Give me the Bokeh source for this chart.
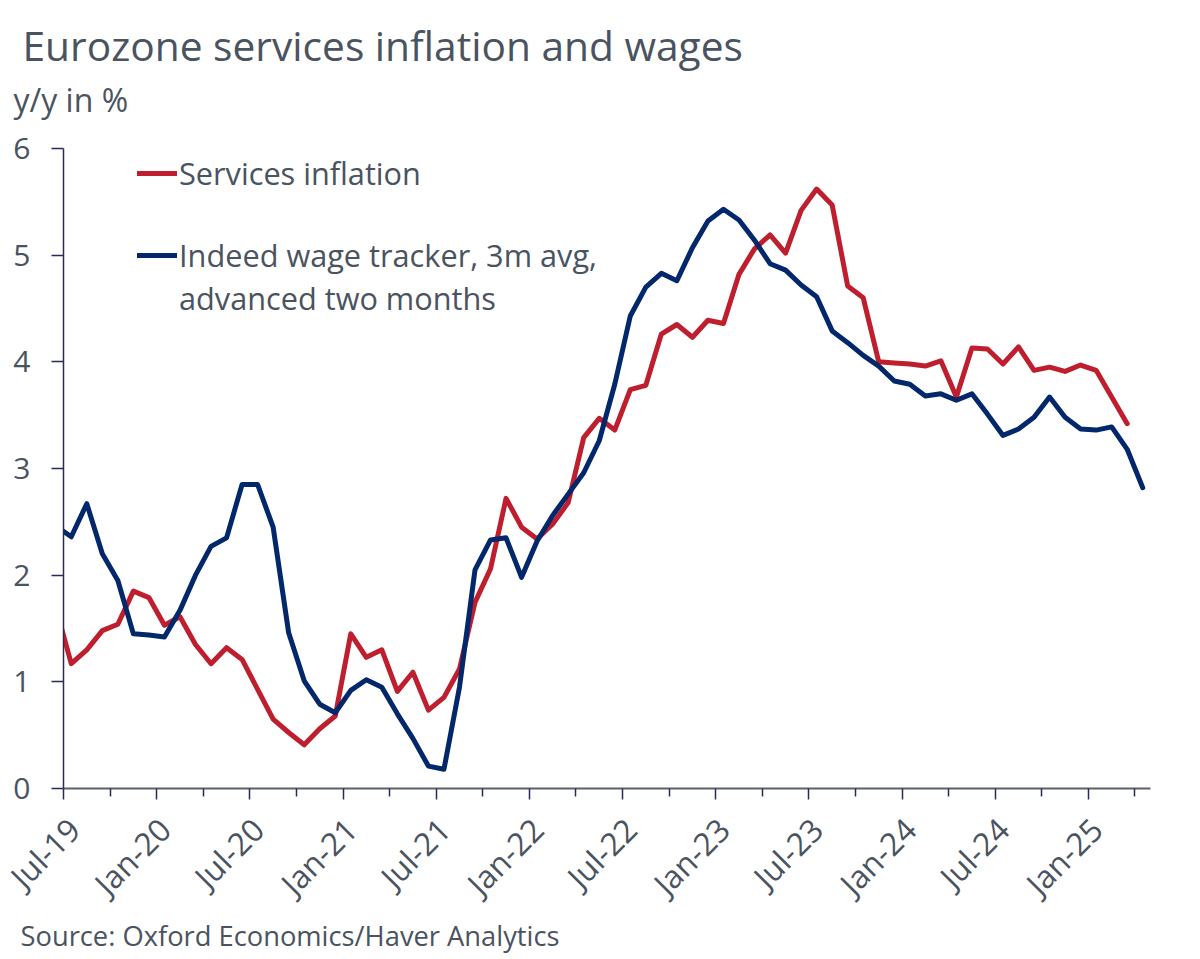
from bokeh.plotting import figure
from bokeh.models import Label, Legend, LegendItem, FixedTicker, Range1d, LinearAxis
from bokeh.layouts import column
from bokeh.embed import file_html
from bokeh.resources import INLINE
import math

TITLE = "Eurozone services inflation and wages"
UNIT = "y/y in %"
SOURCE = "Source: Oxford Economics/Haver Analytics"
SERIES_RED = "Services inflation"
SERIES_BLUE = ["Indeed wage tracker, 3m avg,", "advanced two months"]

# monthly values; first entry is Jun-19 (cut off by the axis), then Jul-19 onward
services_inflation = [1.70, 1.17, 1.30, 1.48, 1.54, 1.85, 1.79, 1.53, 1.61, 1.35, 1.17, 1.32, 1.21, 0.93, 0.65,
                      0.525, 0.41, 0.56, 0.68, 1.45, 1.23, 1.30, 0.91, 1.09, 0.735, 0.854, 1.12, 1.745, 2.06,
                      2.72, 2.45, 2.34, 2.48, 2.68, 3.29, 3.47, 3.36, 3.74, 3.78, 4.26, 4.35, 4.23, 4.39, 4.36,
                      4.82, 5.06, 5.19, 5.02, 5.42, 5.62, 5.47, 4.71, 4.60, 4.00, 3.99, 3.98, 3.96, 4.01, 3.67,
                      4.13, 4.12, 3.98, 4.14, 3.92, 3.95, 3.91, 3.97, 3.92, 3.67, 3.42]
wage_tracker = [2.46, 2.36, 2.67, 2.20, 1.95, 1.45, 1.44, 1.42, 1.67, 2.00, 2.27, 2.35, 2.85, 2.85, 2.45, 1.46,
                1.01, 0.79, 0.71, 0.92, 1.02, 0.95, 0.70, 0.47, 0.21, 0.18, 0.95, 2.05, 2.33, 2.35, 1.98, 2.32,
                2.56, 2.76, 2.96, 3.26, 3.79, 4.43, 4.70, 4.83, 4.76, 5.07, 5.32, 5.43, 5.33, 5.14, 4.92, 4.86,
                4.72, 4.61, 4.29, 4.18, 4.06, 3.96, 3.82, 3.79, 3.68, 3.70, 3.64, 3.70, 3.51, 3.31, 3.37, 3.48,
                3.67, 3.48, 3.37, 3.36, 3.39, 3.18, 2.82]
tick_labels = ["Jul-19", "Jan-20", "Jul-20", "Jan-21", "Jul-21", "Jan-22", "Jul-22", "Jan-23", "Jul-23",
               "Jan-24", "Jul-24", "Jan-25"]

RED, NAVY, TEXT, AXIS, TICK = "#BE1E2D", "#03276B", "#4A5360", "#5A616B", "#2A2A5A"
FONT = "Open Sans"

x_red = [i - 0.5 for i in range(len(services_inflation))]
x_blue = [i - 0.5 for i in range(len(wage_tracker))]

W = 1190
HEAD, FOOT_TOP, FOOT, FOOT_OVERLAP = 120, 921, 42, 8
L, R, T, B = 63, 40, 148 - HEAD, 133


def strip(height):
    """A plain figure used only to hold text outside the chart frame."""
    f = figure(width=W, height=height, output_backend="svg", toolbar_location=None,
               x_range=Range1d(0, W), y_range=Range1d(0, height),
               min_border_left=0, min_border_right=0, min_border_top=0, min_border_bottom=0,
               outline_line_color=None, x_axis_type=None, y_axis_type=None,
               background_fill_color=None, border_fill_color=None)
    f.grid.visible = False
    f.frame_align = False
    return f


def strip_text(f, height, s, px, x, center_y):
    f.add_layout(Label(x=x, y=height - center_y, x_units="screen", y_units="screen", text=s,
                       text_font=FONT, text_font_size=f"{px}px", text_color=TEXT,
                       text_baseline="middle", text_align="left"))


head = strip(HEAD)
strip_text(head, HEAD, TITLE, 40.7, 22, 44)
strip_text(head, HEAD, UNIT, 32, 13, 99)

foot = strip(FOOT)
foot.margin = (-FOOT_OVERLAP, 0, 0, 0)
strip_text(foot, FOOT, SOURCE, 27.3, 20, 22)

p = figure(width=W, height=FOOT_TOP - HEAD, output_backend="svg", toolbar_location=None,
           x_range=Range1d(0, 70), y_range=Range1d(0, 6),
           min_border_left=L, min_border_right=R, min_border_top=T, min_border_bottom=B,
           outline_line_color=None)
p.grid.visible = False
p.frame_align = False

ln_r = p.line(x_red, services_inflation, line_color=RED, line_width=5, line_join="round", line_cap="round")
ln_b = p.line(x_blue, wage_tracker, line_color=NAVY, line_width=5, line_join="round", line_cap="round")

# axis with the tick marks
xa = p.xaxis[0]
xa.ticker = FixedTicker(ticks=[6 * i for i in range(len(tick_labels))],
                        minor_ticks=[3 + 6 * i for i in range(len(tick_labels))])
xa.major_label_overrides = {6 * i: "" for i in range(len(tick_labels))}
xa.major_label_standoff = 0
xa.major_label_text_font_size = "1px"
xa.axis_line_color = AXIS
xa.axis_line_width = 2
xa.major_tick_line_color = TICK
xa.major_tick_line_width = 1.5
xa.minor_tick_line_color = TICK
xa.minor_tick_line_width = 1.5
xa.major_tick_in = 0
xa.major_tick_out = 11
xa.minor_tick_in = 0
xa.minor_tick_out = 8

# second axis only carries the slanted labels, nudged half a month to the right of the ticks
LABEL_NUDGE = 0.5
lab_ticks = [6 * i + LABEL_NUDGE for i in range(len(tick_labels))]
la = LinearAxis(ticker=FixedTicker(ticks=lab_ticks, minor_ticks=[]),
                major_label_overrides=dict(zip(lab_ticks, tick_labels)),
                major_label_orientation=math.pi / 4, major_label_text_font=FONT,
                major_label_text_font_size="31.5px", major_label_text_color=TEXT,
                major_label_standoff=24, axis_line_color=None, major_tick_line_color=None,
                minor_tick_line_color=None, major_tick_in=0, major_tick_out=0,
                minor_tick_in=0, minor_tick_out=0)
p.add_layout(la, "below")

ya = p.yaxis[0]
ya.ticker = FixedTicker(ticks=list(range(7)), minor_ticks=[])
ya.major_label_text_font = FONT
ya.major_label_text_font_size = "30px"
ya.major_label_text_color = TEXT
ya.major_label_standoff = 21
ya.axis_line_color = TICK
ya.axis_line_width = 1.5
ya.major_tick_line_color = TICK
ya.major_tick_line_width = 1.5
ya.major_tick_in = 0
ya.major_tick_out = 12

legend = Legend(items=[LegendItem(label=SERIES_RED, renderers=[ln_r]),
                       LegendItem(label=SERIES_BLUE[0], renderers=[ln_b])],
                location=(74, 512), orientation="vertical",
                background_fill_alpha=0, border_line_color=None,
                glyph_width=40, glyph_height=36, label_standoff=2, spacing=40,
                label_text_font=FONT, label_text_font_size="30.7px", label_text_color=TEXT,
                margin=0, padding=0, label_height=36)
p.add_layout(legend, "center")

p.add_layout(Label(x=115.5, y=491, x_units="screen", y_units="screen", text=SERIES_BLUE[1],
                   text_font=FONT, text_font_size="30.7px", text_color=TEXT,
                   text_baseline="alphabetic", text_align="left"))

open("out.html", "w").write(file_html(column(head, p, foot, spacing=0), INLINE))
